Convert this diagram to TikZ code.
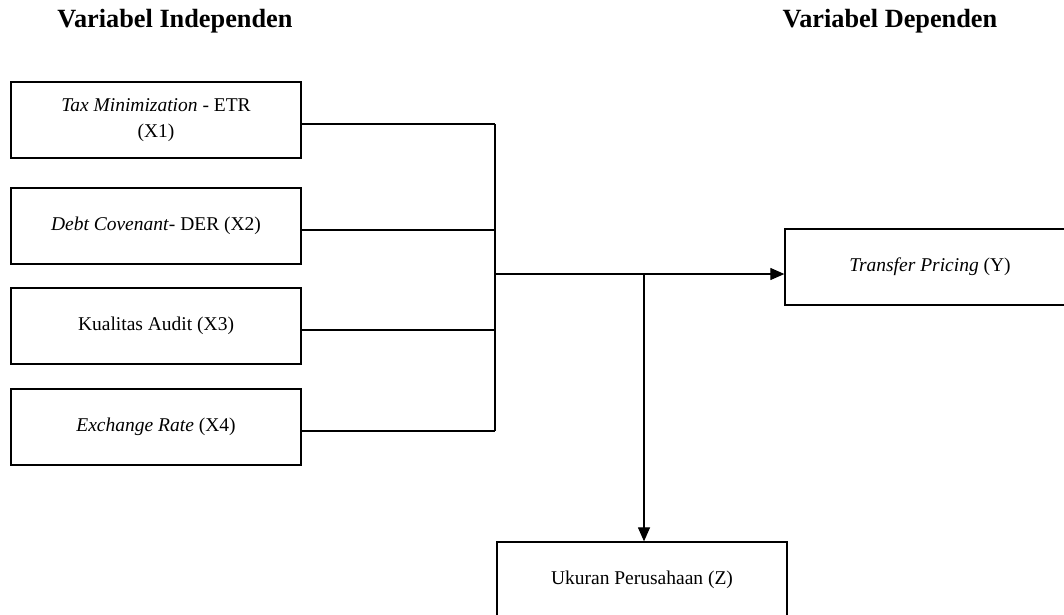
\documentclass[tikz,border=0pt]{standalone}
\usepackage{fontspec}
\setmainfont{Liberation Serif}
\usetikzlibrary{arrows.meta,positioning}
\begin{document}
\begin{tikzpicture}[x=1pt,y=-1pt,%
        mybox/.style={draw, line width=1.3pt, minimum width=290pt, minimum height=76pt,
            align=center, inner sep=0pt, font=\fontsize{19.5}{25.5}\selectfont},
        myhead/.style={font=\fontsize{26.3}{30}\selectfont\bfseries},
        myline/.style={line width=1.2pt},
        myarrow/.style={myline, -{Triangle[length=14pt,width=12pt]}}
    ]
    \clip (0,0) rectangle (1064,614);
    % headings
    \node [myhead] (hindep) at (175,21) {Variabel Independen};
    \node [myhead] (hdep) at (890,21) {Variabel Dependen};
    % independent variables
    \foreach \myname/\myy/\mytext in {%
            x1/120/{\textit{Tax Minimization} - ETR\\(X1)},
            x2/226/{\textit{Debt Covenant}- DER (X2)},
            x3/326/{Kualitas Audit (X3)},
            x4/427/{\textit{Exchange Rate} (X4)}} {
        \node [mybox] (\myname) at (156,\myy) {\mytext};
    }
    \node [mybox] (y) at (930,267) {\textit{Transfer Pricing} (Y)};
    \node [mybox] (z) at (642,580) {Ukuran Perusahaan (Z)};
    % connectors
    \coordinate (bus) at (495,274);
    \coordinate (split) at (644,274);
    \foreach \myname in {x1,x2,x3,x4} {
        \draw [myline] ([yshift=-4pt]\myname.east) -- ([yshift=-4pt]\myname.east -| bus);
    }
    \draw [myline] ([yshift=-4pt]x1.east -| bus) -- ([yshift=-4pt]x4.east -| bus);
    \draw [myarrow] (bus) -- (bus -| y.west);
    \draw [myarrow] (split) -- (split |- z.north);
\end{tikzpicture}
\end{document}
